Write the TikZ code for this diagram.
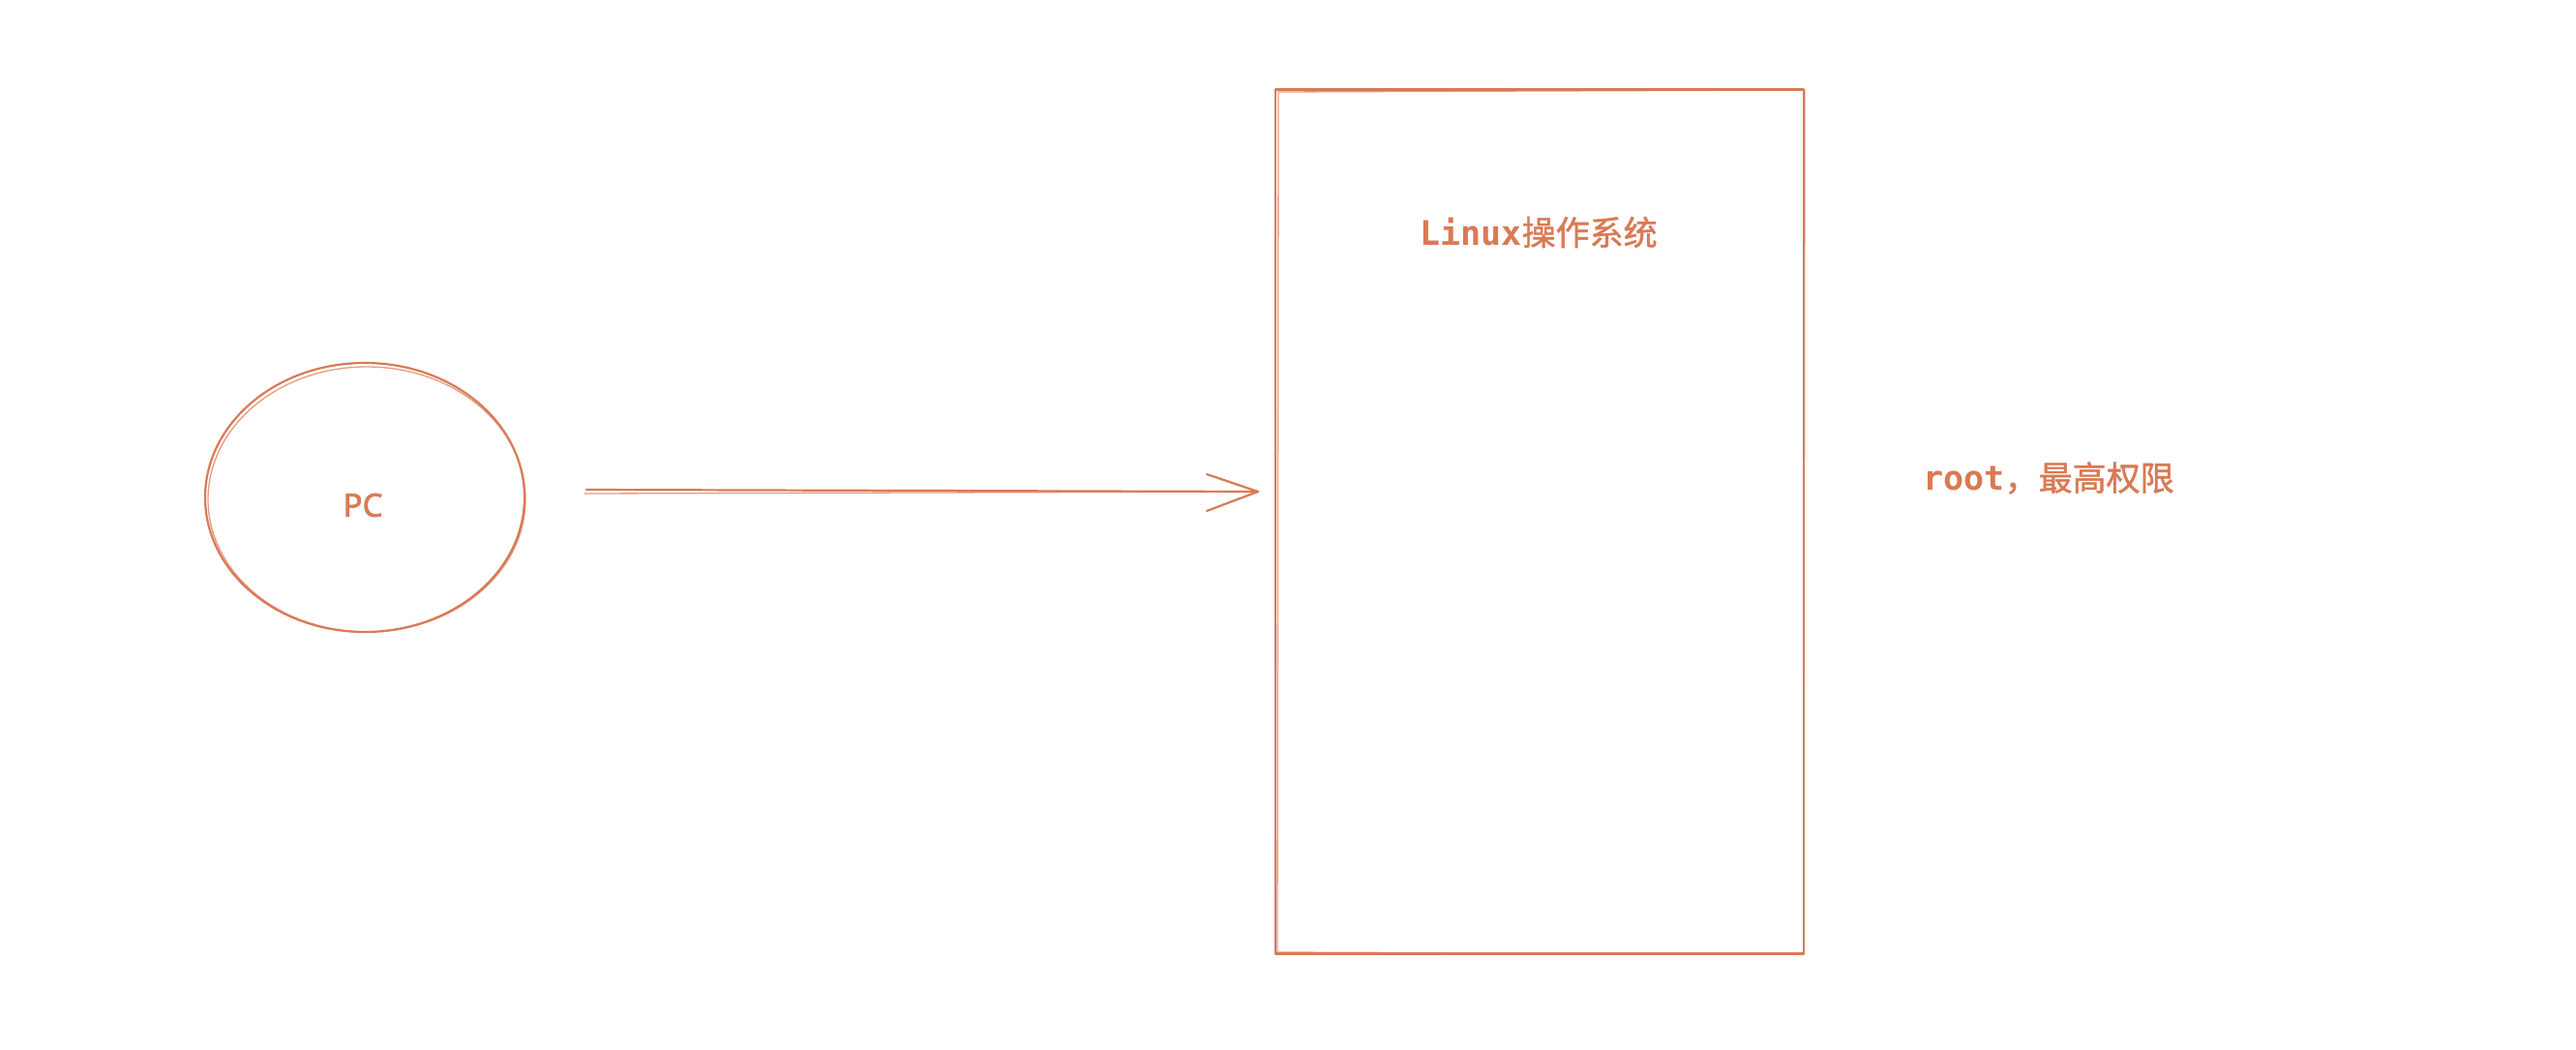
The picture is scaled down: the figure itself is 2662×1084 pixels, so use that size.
\documentclass[tikz,border=0pt]{standalone}
\usepackage{fontspec}
\usetikzlibrary{shapes.geometric,calc}
\newfontfamily\monof{DejaVu Sans Mono}
\newfontfamily\cjkf[FakeBold=1.3]{Noto Sans CJK SC}
\newfontfamily\sansf[FakeBold=2]{Noto Sans}
\definecolor{sk}{HTML}{D97A55}
\tikzset{
  sketch/.style={draw=sk, line width=2.2pt, line cap=round, line join=round},
  thin sketch/.style={draw=sk, line width=1.3pt, line cap=round, opacity=0.75},
  lbl/.style={text=sk, inner sep=0pt, font=\fontsize{35}{40}\selectfont}
}
\begin{document}
\begin{tikzpicture}[x=1pt,y=-1pt]
\useasboundingbox (0,0) rectangle (2662,1084);
\fill[white] (0,0) rectangle (2662,1084);
% PC ellipse
\node[ellipse, sketch, minimum width=330pt, minimum height=278pt, inner sep=0pt] (pc) at (377,514) {};
\draw[thin sketch] (379,516) ellipse [x radius=164pt, y radius=137pt];
\node[lbl, font=\fontsize{33}{38}\selectfont\sansf] (pctxt) at (375,522) {PC};
% OS rectangle
\node[rectangle, sketch, minimum width=546pt, minimum height=893pt, inner sep=0pt] (os) at (1591,539) {};
\draw[thin sketch] (1321,95) -- (1865,93) -- (1864,986) -- (1320,984) -- cycle;
\node[lbl] (ostxt) at (1590,240) {{\monof\bfseries Linux}{\cjkf 操作系统}};
% root label
\node[lbl] (roottxt) at (2117,494) {{\monof\bfseries root}{\cjkf ，最高权限}};
% arrow
\coordinate (a1) at (606,506);
\coordinate (a2) at (1300,508);
\coordinate (b1) at (604,510);
\coordinate (h1) at (1247,490);
\coordinate (h2) at (1247,528);
\draw[sketch] (a1) -- (a2);
\draw[thin sketch] (b1) -- (a2);
\draw[sketch] (h1) -- (a2) -- (h2);
\end{tikzpicture}
\end{document}
